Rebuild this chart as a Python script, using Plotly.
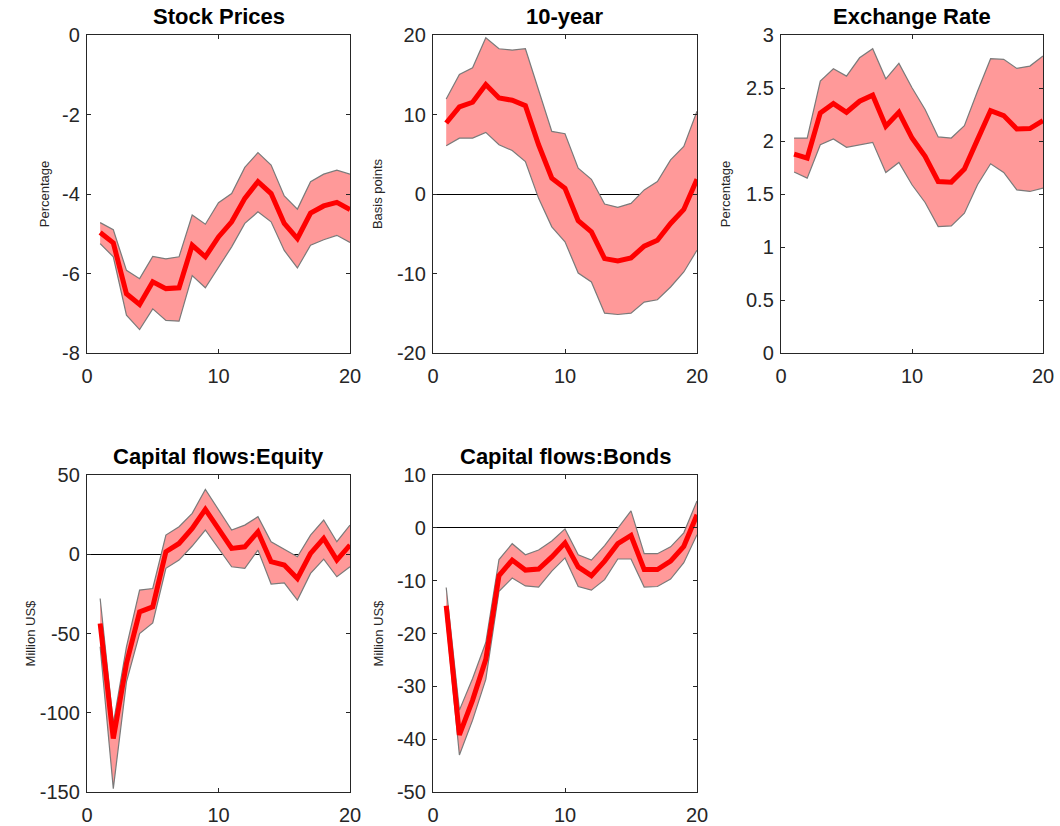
import plotly.graph_objects as go

horizon = list(range(1, 21))

titles = ["Stock Prices", "10-year", "Exchange Rate", "Capital flows:Equity", "Capital flows:Bonds"]
ylabels = ["Percentage", "Basis points", "Percentage", "Million US$", "Million US$"]

x_tickvals = [0, 10, 20]
x_ticktext = ["0", "10", "20"]

stock_ticks = [-8, -6, -4, -2, 0]
stock_ticktext = ["-8", "-6", "-4", "-2", "0"]
ten_ticks = [-20, -10, 0, 10, 20]
ten_ticktext = ["-20", "-10", "0", "10", "20"]
fx_ticks = [0, 0.5, 1, 1.5, 2, 2.5, 3]
fx_ticktext = ["0", "0.5", "1", "1.5", "2", "2.5", "3"]
eq_ticks = [-150, -100, -50, 0, 50]
eq_ticktext = ["-150", "-100", "-50", "0", "50"]
bd_ticks = [-50, -40, -30, -20, -10, 0, 10]
bd_ticktext = ["-50", "-40", "-30", "-20", "-10", "0", "10"]

stock_mid = [-4.97, -5.23, -6.51, -6.78, -6.21, -6.38, -6.36, -5.29, -5.58, -5.08,
             -4.70, -4.11, -3.69, -3.99, -4.74, -5.12, -4.48, -4.30, -4.21, -4.39]
stock_hi = [-4.72, -4.90, -5.92, -6.13, -5.57, -5.63, -5.58, -4.53, -4.76, -4.22,
            -3.99, -3.33, -2.96, -3.27, -4.05, -4.38, -3.69, -3.50, -3.40, -3.50]
stock_lo = [-5.25, -5.58, -7.05, -7.41, -6.89, -7.18, -7.20, -6.05, -6.36, -5.85,
            -5.33, -4.74, -4.45, -4.70, -5.42, -5.86, -5.29, -5.15, -5.04, -5.22]

ten_mid = [8.93, 10.95, 11.54, 13.77, 12.08, 11.79, 11.12, 6.19, 1.98, 0.72,
           -3.37, -4.76, -8.13, -8.42, -8.04, -6.57, -5.81, -3.71, -1.94, 1.85]
ten_hi = [11.96, 15.03, 15.87, 19.66, 18.27, 18.10, 18.27, 12.93, 7.87, 7.58,
          3.24, 1.85, -1.26, -1.68, -1.18, 0.51, 1.56, 4.29, 5.98, 10.40]
ten_lo = [6.06, 7.03, 7.03, 7.75, 6.19, 5.47, 4.08, -0.55, -4.13, -6.02,
          -9.94, -11.07, -14.99, -15.16, -14.99, -13.60, -13.30, -11.70, -9.81, -7.07]

fx_mid = [1.877, 1.839, 2.265, 2.353, 2.271, 2.375, 2.432, 2.139, 2.271, 2.028,
          1.855, 1.618, 1.612, 1.735, 2.013, 2.287, 2.240, 2.114, 2.117, 2.192]
fx_hi = [2.028, 2.028, 2.565, 2.681, 2.612, 2.785, 2.871, 2.587, 2.732, 2.502,
         2.297, 2.038, 2.028, 2.145, 2.470, 2.776, 2.770, 2.685, 2.707, 2.801]
fx_lo = [1.707, 1.650, 1.965, 2.019, 1.940, 1.965, 1.987, 1.703, 1.798, 1.587,
         1.420, 1.192, 1.199, 1.319, 1.587, 1.785, 1.703, 1.539, 1.524, 1.555]

eq_mid = [-43.7, -116.3, -68.9, -36.3, -33.2, 1.6, 6.8, 16.3, 28.3, 16.3,
          3.7, 4.7, 14.2, -4.7, -6.8, -15.3, 0.5, 10.0, -3.7, 5.8]
eq_hi = [-27.9, -106.8, -58.4, -22.6, -21.6, 12.1, 17.4, 25.8, 40.9, 27.9,
         15.3, 18.4, 23.7, 7.9, 3.1, -1.6, 12.1, 21.6, 7.9, 18.4]
eq_lo = [-58.4, -147.9, -80.5, -50.0, -43.3, -8.9, -3.7, 5.2, 15.3, 3.7,
         -7.9, -8.9, 2.6, -18.8, -18.0, -28.9, -12.1, -3.1, -14.2, -7.9]

bd_mid = [-14.75, -39.2, -32.6, -24.9, -9.05, -6.1, -8.0, -7.8, -5.5, -2.85,
          -7.4, -9.05, -6.3, -3.0, -1.45, -7.9, -7.9, -6.3, -3.5, 2.5]
bd_hi = [-11.3, -34.5, -28.5, -21.7, -6.0, -3.0, -5.1, -4.2, -2.5, -0.2,
         -5.1, -6.1, -3.35, 0.0, 3.2, -4.9, -4.9, -3.6, -0.95, 5.1]
bd_lo = [-17.4, -43.0, -36.4, -28.7, -12.0, -9.5, -11.0, -11.2, -8.2, -5.7,
         -11.1, -11.8, -9.8, -5.9, -5.9, -11.2, -11.1, -9.7, -6.6, -1.3]

y_ranges = [[-8, 0], [-20, 20], [0, 3], [-150, 50], [-50, 10]]
y_tickvals = [stock_ticks, ten_ticks, fx_ticks, eq_ticks, bd_ticks]
y_ticktexts = [stock_ticktext, ten_ticktext, fx_ticktext, eq_ticktext, bd_ticktext]
zero_lines = [False, True, False, True, True]
title_standoffs = [9, 11, 12, 1, 10]

series = [(stock_mid, stock_hi, stock_lo), (ten_mid, ten_hi, ten_lo),
          (fx_mid, fx_hi, fx_lo), (eq_mid, eq_hi, eq_lo), (bd_mid, bd_hi, bd_lo)]

W, H = 1060, 826
# pixel boxes (left, right, top, bottom)
boxes = [(87, 350, 35, 353), (433, 697, 35, 353), (781, 1043, 35, 353),
         (87, 350, 475, 792), (433, 697, 475, 792)]

fig = go.Figure()
axis_color = "#262626"
font_fam = "Liberation Sans, Arial, sans-serif"

for i, (mid, hi, lo) in enumerate(series):
    n = i + 1
    xa = "x" if n == 1 else f"x{n}"
    ya = "y" if n == 1 else f"y{n}"
    fig.add_trace(go.Scatter(x=horizon, y=hi, mode="lines", xaxis=xa, yaxis=ya,
                             line=dict(color="#7a7a7a", width=1.2), showlegend=False,
                             hoverinfo="skip"))
    fig.add_trace(go.Scatter(x=horizon, y=lo, mode="lines", xaxis=xa, yaxis=ya,
                             line=dict(color="#7a7a7a", width=1.2), fill="tonexty",
                             fillcolor="#ff9999", showlegend=False, hoverinfo="skip"))
    fig.add_trace(go.Scatter(x=horizon, y=mid, mode="lines", xaxis=xa, yaxis=ya,
                             line=dict(color="#ff0000", width=5), showlegend=False))

    l, r, t, b = boxes[i]
    xd = [l / W, r / W]
    yd = [1 - b / H, 1 - t / H]
    common = dict(showline=True, linecolor=axis_color, linewidth=1.4, mirror="ticks",
                  ticks="inside", ticklen=4, tickcolor=axis_color, showgrid=False,
                  automargin=False,
                  tickfont=dict(family=font_fam, size=20, color=axis_color))
    fig.layout[f"xaxis{'' if n == 1 else n}"] = dict(
        domain=xd, anchor=ya, range=[0, 20], tickmode="array",
        tickvals=x_tickvals, ticktext=x_ticktext, ticklabelstandoff=5,
        zeroline=False, **common)
    fig.layout[f"yaxis{'' if n == 1 else n}"] = dict(
        domain=yd, anchor=xa, range=y_ranges[i], tickmode="array",
        tickvals=y_tickvals[i], ticktext=y_ticktexts[i], ticklabelstandoff=2,
        zeroline=zero_lines[i], zerolinecolor="#000000", zerolinewidth=1,
        title=dict(text=ylabels[i], font=dict(family=font_fam, size=13, color=axis_color),
                   standoff=title_standoffs[i]),
        **common)
    fig.add_annotation(text=f"<b>{titles[i]}</b>", x=(l + r) / 2 / W, y=1 - (t - 4) / H,
                       xref="paper", yref="paper", xanchor="center", yanchor="bottom",
                       showarrow=False,
                       font=dict(family=font_fam, size=22, color="#000000"))

fig.update_layout(template="none", width=W, height=H, margin=dict(l=0, r=0, t=0, b=0),
                  paper_bgcolor="white", plot_bgcolor="white")
fig.write_html("out.html", config={"displayModeBar": False},
               post_script="document.body.style.margin='0';document.body.style.overflow='hidden';")
